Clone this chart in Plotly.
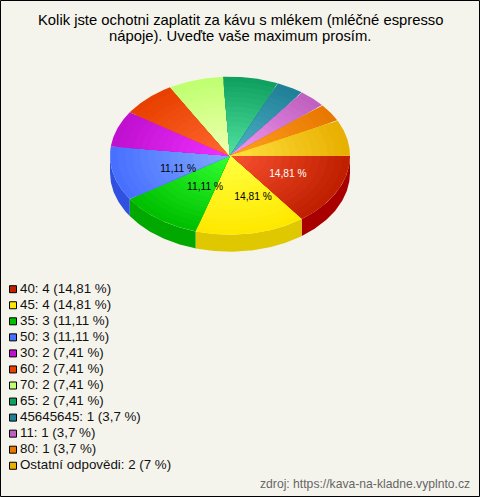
import numpy as np
import plotly.graph_objects as go

# --- data ---
categories = ["40", "45", "35", "50", "30", "60", "70", "65", "45645645", "11", "80", "Ostatní odpovědi"]
counts = [4, 4, 3, 3, 2, 2, 2, 2, 1, 1, 1, 2]
percent_labels = ["14,81", "14,81", "11,11", "11,11", "7,41", "7,41", "7,41", "7,41", "3,7", "3,7", "3,7", "7"]
title_lines = ["Kolik jste ochotni zaplatit za kávu s mlékem (mléčné espresso",
               "nápoje). Uveďte vaše maximum prosím."]
source_text = "zdroj: https://kava-na-kladne.vyplnto.cz"

# --- styles ---
edge_colors = ["#c02000", "#ffe800", "#00c000", "#4870ff", "#c010d0", "#e84000",
               "#c0ff70", "#10a060", "#208098", "#c060c0", "#e87800", "#e8b000"]
center_colors = ["#f85030", "#ffff40", "#30ff30", "#80a8ff", "#f030ff", "#ff6830",
                 "#f0ffb0", "#50e0a0", "#50b0c8", "#f098f0", "#ffa020", "#ffe040"]
side_colors = ["#a80000", "#e0c800", "#00a800", "#3050e0"] + ["#000000"] * 8
legend_colors = edge_colors
BG = "#f5f4ec"
FONT = "Liberation Sans, Arial, sans-serif"
CX, CY, RX, RY, DEPTH = 230.0, 155.7, 120.0, 79.0, 17.0
RINGS = 16
# per-slice label nudges in px (only the four largest slices carry a label)
label_offset = {0: (1, 0), 1: (12, 1), 2: (13, -2), 3: (10, 4)}
label_color = {0: "#ffffff", 1: "#000000", 2: "#000000", 3: "#000000"}


def hex2rgb(h):
    return np.array([int(h[i:i + 2], 16) for i in (1, 3, 5)], float)


def mix(a, b, t):
    c = hex2rgb(a) * (1 - t) + hex2rgb(b) * t
    return "rgb(%d,%d,%d)" % tuple(c.round())


fig = go.Figure()
total = sum(counts)
edges = np.cumsum([0] + counts) / total * 2 * np.pi


def add_poly(x, y, color):
    fig.add_trace(go.Scatter(x=x, y=y, mode="lines", fill="toself", fillcolor=color,
                             line=dict(width=0, color=color), hoverinfo="skip", showlegend=False))


# side wall of the lower half
for i in range(len(counts)):
    a0, a1 = edges[i], min(edges[i + 1], np.pi)
    if a0 >= np.pi:
        continue
    t = np.linspace(a0, a1, 60)
    x = CX + RX * np.cos(t)
    y = CY + RY * np.sin(t)
    add_poly(np.r_[x, x[::-1]], np.r_[y, y[::-1] + DEPTH], side_colors[i])

# top face: concentric shrinking wedges form the radial shading
for i in range(len(counts)):
    t = np.linspace(edges[i], edges[i + 1], 60)
    for k in range(RINGS):
        s = 1 - k / RINGS
        x = np.r_[CX, CX + s * RX * np.cos(t), CX]
        y = np.r_[CY, CY + s * RY * np.sin(t), CY]
        add_poly(x, y, mix(edge_colors[i], center_colors[i], k / (RINGS - 1)))

# percentage labels
for i, (dx, dy) in label_offset.items():
    mid = (edges[i] + edges[i + 1]) / 2
    fig.add_trace(go.Scatter(
        x=[CX + 0.53 * RX * np.cos(mid) + dx], y=[CY + 0.53 * RY * np.sin(mid) + dy],
        mode="text", text=[percent_labels[i] + " %"], textposition="middle center",
        textfont=dict(family=FONT, size=10.2, color=label_color[i]),
        hoverinfo="skip", showlegend=False))

# legend
rows = 289.2 + 16.05 * np.arange(len(categories))
fig.add_trace(go.Scatter(
    x=[13] * len(categories), y=rows, mode="markers",
    marker=dict(symbol="square", size=7, color=legend_colors, line=dict(color="#000000", width=1)),
    hoverinfo="skip", showlegend=False))
fig.add_trace(go.Scatter(
    x=[20] * len(categories), y=rows, mode="text",
    text=[f"{c}: {n} ({p} %)" for c, n, p in zip(categories, counts, percent_labels)],
    textposition="middle right", textfont=dict(family=FONT, size=13.33, color="#111111"),
    hoverinfo="skip", showlegend=False))

fig.update_layout(
    width=480, height=497, margin=dict(l=0, r=0, t=0, b=0),
    paper_bgcolor=BG, plot_bgcolor=BG, showlegend=False,
    xaxis=dict(range=[0, 480], visible=False, fixedrange=True),
    yaxis=dict(range=[497, 0], visible=False, fixedrange=True),
    annotations=[
        dict(x=240, y=20, xref="x", yref="y", text=title_lines[0], showarrow=False,
             font=dict(family=FONT, size=14.8, color="#000000")),
        dict(x=240, y=35.5, xref="x", yref="y", text=title_lines[1], showarrow=False,
             font=dict(family=FONT, size=14.8, color="#000000")),
        dict(x=471.5, y=484, xref="x", yref="y", text=source_text, showarrow=False, xanchor="right",
             font=dict(family=FONT, size=12.17, color="#666666")),
    ],
    shapes=[dict(type="rect", x0=0.5, y0=0.5, x1=479.5, y1=496.5, xref="x", yref="y",
                 line=dict(color="#000000", width=1), fillcolor="rgba(0,0,0,0)")],
)
fig.write_html("out.html", config={"displayModeBar": False},
               post_script="document.body.style.margin='0';")
